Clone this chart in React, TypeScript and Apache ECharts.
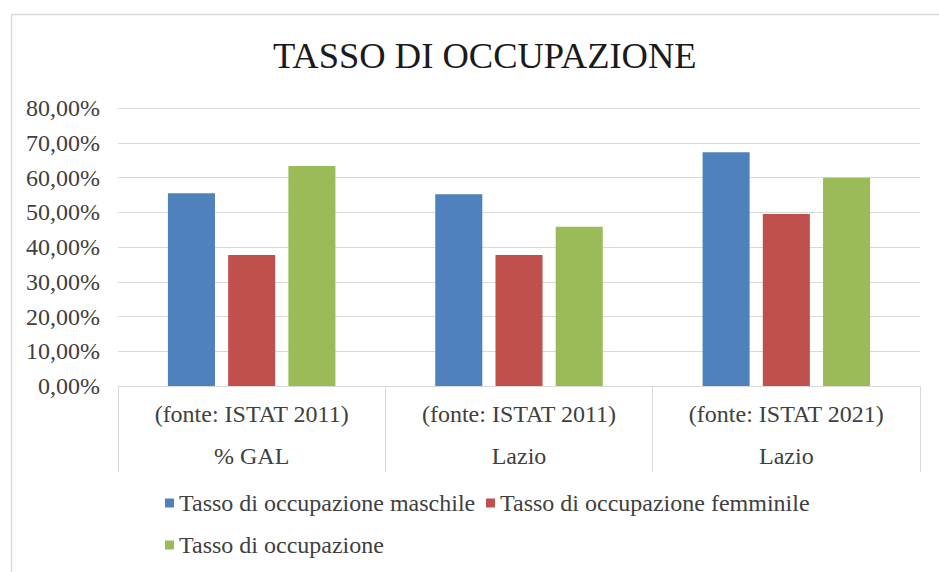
import React, { useEffect, useRef } from "react";
import * as echarts from "echarts";

const categories = [
  "(fonte: ISTAT 2011)\n% GAL",
  "(fonte: ISTAT 2011)\nLazio",
  "(fonte: ISTAT 2021)\nLazio",
];
const seriesNames = [
  "Tasso di occupazione maschile",
  "Tasso di occupazione femminile",
  "Tasso di occupazione",
];
const maschile = [55.5, 55.2, 67.3];
const femminile = [37.7, 37.7, 49.5];
const totale = [63.3, 45.8, 59.9];
const colors = ["#4F81BD", "#C0504D", "#9BBB59"];

const FONT = "'Liberation Serif', 'Times New Roman', serif";

export default function App() {
  const ref = useRef<HTMLDivElement>(null);
  useEffect(() => {
    if (!ref.current) return;
    const chart = echarts.init(ref.current, null, { renderer: "svg" });
    const values = [maschile, femminile, totale];
    const txt = (size: number, color: string) => ({
      fontFamily: FONT,
      fontSize: size,
      fontWeight: "normal" as const,
      fontStyle: "normal" as const,
      color,
    });
    const legendBase = {
      icon: "rect",
      itemWidth: 9,
      itemHeight: 9,
      itemGap: 13,
      padding: 0,
      textStyle: txt(24, "#404040"),
    };
    chart.setOption({
      animation: false,
      backgroundColor: "#ffffff",
      textStyle: { fontFamily: FONT, fontWeight: "normal" },
      title: {
        text: "TASSO DI OCCUPAZIONE",
        left: 268,
        top: 32,
        textStyle: txt(36.5, "#1a1a1a"),
      },
      graphic: [
        {
          type: "line",
          shape: { x1: 11.5, y1: 14.5, x2: 11.5, y2: 572 },
          style: { stroke: "#D9D9D9", lineWidth: 1.5 },
        },
        {
          type: "line",
          shape: { x1: 11.5, y1: 14.5, x2: 939, y2: 14.5 },
          style: { stroke: "#D9D9D9", lineWidth: 1.5 },
        },
      ],
      legend: [
        { ...legendBase, data: [seriesNames[0]], left: 165, top: 491 },
        { ...legendBase, data: [seriesNames[1]], left: 486, top: 491 },
        { ...legendBase, data: [seriesNames[2]], left: 165, top: 533 },
      ],
      grid: { left: 118, right: 19, top: 108, bottom: 186, containLabel: false },
      xAxis: {
        type: "category",
        data: categories,
        axisLine: { show: true, lineStyle: { color: "#D9D9D9", width: 1 } },
        axisTick: {
          show: true,
          interval: 0,
          length: 86,
          lineStyle: { color: "#D9D9D9" },
        },
        axisLabel: {
          interval: 0,
          margin: 7,
          lineHeight: 42,
          ...txt(24, "#404040"),
        },
      },
      yAxis: {
        type: "value",
        min: 0,
        max: 80,
        interval: 10,
        axisLine: { show: false },
        axisTick: { show: false },
        splitLine: { lineStyle: { color: "#D9D9D9", width: 1 } },
        axisLabel: {
          margin: 18,
          ...txt(24, "#404040"),
          formatter: (v: number) => v.toFixed(2).replace(".", ",") + "%",
        },
      },
      series: seriesNames.map((name, i) => ({
        name,
        type: "bar",
        data: values[i],
        barWidth: "17.6%",
        barGap: "28%",
        itemStyle: { color: colors[i] },
      })),
    });
    return () => chart.dispose();
  }, []);
  return (
    <div
      ref={ref}
      style={{ position: "fixed", left: 0, top: 0, width: 939, height: 572 }}
    />
  );
}
